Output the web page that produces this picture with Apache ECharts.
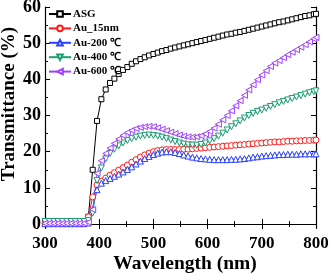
<!DOCTYPE html>
<html><head><meta charset="utf-8">
<script src="https://cdn.jsdelivr.net/npm/echarts@6/dist/echarts.min.js"></script>
<style>html,body{margin:0;padding:0;background:#fff}#c{width:331px;height:275px}</style>
</head><body><div id="c"></div>
<script>
const wavelengths = [300,308,316,324,332,340,348,356,364,372,380,
 388,396,404,412,420,428,436,444,452,460,468,476,484,492,500,
 508,516,524,532,540,548,556,564,572,580,588,596,604,
 612,620,628,636,644,652,660,668,676,684,692,700,
 708,716,724,732,740,748,756,764,772,780,788,796,800];
const seriesNames = ['ASG','Au_15nm','Au-200 \u2103','Au-400 \u2103','Au-600 \u2103'];
const asg = [0.7,0.7,0.7,0.7,0.7,0.7,0.7,0.7,0.7,0.7,2.0,
 15,28.5,34.5,37.2,39.0,40.2,41.5,42.6,43.4,44.3,45.0,45.6,46.1,46.6,47.0,
 47.4,47.8,48.1,48.5,48.8,49.1,49.4,49.7,50.0,50.3,50.6,50.9,51.2,
 51.5,51.8,52.1,52.4,52.6,52.9,53.1,53.4,53.7,54.0,54.3,54.6,
 54.9,55.2,55.5,55.8,56.0,56.3,56.6,56.9,57.2,57.5,57.7,58.0,58.1];
const au15 = [0.3,0.3,0.3,0.3,0.3,0.3,0.3,0.3,0.3,0.3,2.0,
 7.5,10.8,11.8,12.7,13.5,14.2,14.9,15.6,16.3,17.1,17.8,18.5,19.1,19.6,20.0,
 20.3,20.5,20.6,20.6,20.6,20.6,20.7,20.7,20.8,20.9,21.0,21.1,21.2,
 21.3,21.4,21.5,21.6,21.7,21.8,21.9,22.0,22.1,22.2,22.3,22.4,
 22.5,22.6,22.7,22.7,22.8,22.9,22.9,23.0,23.0,23.1,23.1,23.2,23.2];
const au200 = [0.1,0.1,0.1,0.1,0.1,0.1,0.1,0.1,0.1,0.1,0.3,
 4.0,9.5,11.3,12.0,12.6,13.2,13.8,14.4,15.1,15.8,16.6,17.4,18.1,18.7,19.2,
 19.6,19.9,20.0,20.0,19.8,19.5,19.1,18.8,18.5,18.3,18.1,18.0,17.9,
 17.8,17.8,17.8,17.8,17.9,17.9,18.0,18.1,18.3,18.5,18.6,18.8,
 18.9,19.0,19.1,19.2,19.2,19.3,19.3,19.3,19.4,19.4,19.4,19.4,19.4];
const au400 = [0.7,0.7,0.7,0.7,0.7,0.7,0.7,0.7,0.7,0.7,1.0,
 3.0,12.0,15.5,18.0,19.5,20.7,21.6,22.4,23.1,23.6,24.0,24.3,24.5,24.6,24.5,
 24.3,24.0,23.6,23.2,22.8,22.4,22.1,21.9,21.8,21.8,22.0,22.4,23.0,
 23.6,24.3,25.1,26.0,26.9,27.7,28.5,29.3,30.0,30.6,31.1,31.5,
 32.0,32.5,33.0,33.5,33.9,34.3,34.7,35.1,35.5,35.9,36.3,36.6,36.8];
const au600 = [0.2,0.2,0.2,0.2,0.2,0.2,0.2,0.2,0.2,0.2,0.5,
 4.0,14.0,17.5,19.5,21.0,22.3,23.5,24.5,25.3,25.9,26.4,26.7,26.9,27.0,26.9,
 26.6,26.2,25.8,25.4,25.0,24.6,24.3,24.1,24.0,24.1,24.4,24.9,25.6,
 26.5,27.6,28.8,30.0,31.3,32.7,34.1,35.6,37.1,38.5,39.9,41.2,
 42.4,43.6,44.5,45.2,46.0,46.8,47.5,48.2,48.9,49.6,50.4,51.2,51.6];
const xTicks = [300,400,500,600,700,800];
const yTicks = [0,10,20,30,40,50,60];
const yMinorTicks = [5,15,25,35,45,55];
const xTitle = 'Wavelength (nm)';
const yTitle = 'Transmittance (%)';

const values = [asg, au15, au200, au400, au600];
const colors = ['#000000','#ff1a1a','#2a40ff','#1a9e72','#a040ff'];
const symbols = ['rect','circle','triangle','triangle','triangle'];
const rotations = [0,0,0,180,90];
const sizes = [5,6,6,6,6];

const FONT = 'Liberation Serif';
const chart = echarts.init(document.getElementById('c'), null, {renderer:'canvas'});
const yBase = {type:'value', min:-1.1, max:60, splitLine:{show:false}, axisLine:{show:false}};
const option = {
  animation:false,
  backgroundColor:'#fff',
  grid:{left:45, right:15, top:7, bottom:47, containLabel:false, outerBoundsMode:'none'},
  legend:{
    data: seriesNames, orient:'vertical', left:48, top:7.3, itemGap:1, padding:0,
    itemWidth:22, itemHeight:7,
    textStyle:{fontFamily:FONT, fontWeight:'bold', fontSize:11, lineHeight:13.4, color:'#000', padding:[0,0,0,-3]}
  },
  graphic:[
    {type:'text', x:185, y:264, style:{text:xTitle, font:'bold 19.5px "Liberation Serif"', fill:'#000', align:'center', verticalAlign:'middle'}},
    {type:'text', x:9, y:104, rotation:Math.PI/2, style:{text:yTitle, font:'bold 19px "Liberation Serif"', fill:'#000', align:'center', verticalAlign:'middle'}}
  ],
  xAxis:[
    {type:'value', min:300, max:800, interval:100, position:'bottom',
     axisLine:{lineStyle:{color:'#000', width:1.2}},
     axisTick:{inside:true, length:5, lineStyle:{color:'#000'}},
     minorTick:{show:true, splitNumber:2, length:3, lineStyle:{color:'#000'}},
     axisLabel:{fontFamily:FONT, fontWeight:'bold', fontSize:17, color:'#000', margin:7},
     splitLine:{show:false}},
    {type:'value', min:300, max:800, interval:100, position:'top',
     axisLine:{lineStyle:{color:'#000', width:1.2}},
     axisTick:{inside:true, length:5, lineStyle:{color:'#000'}},
     minorTick:{show:true, splitNumber:2, length:3, lineStyle:{color:'#000'}},
     axisLabel:{show:false}, splitLine:{show:false}}
  ],
  yAxis:[
    Object.assign({}, yBase, {position:'left',
     axisLine:{show:true, lineStyle:{color:'#000', width:1.2}},
     axisTick:{inside:true, length:5, customValues:yTicks, lineStyle:{color:'#000'}},
     axisLabel:{customValues:yTicks, fontFamily:FONT, fontWeight:'bold', fontSize:18, color:'#000', margin:4}}),
    Object.assign({}, yBase, {position:'right',
     axisLine:{show:true, lineStyle:{color:'#000', width:1.2}},
     axisTick:{inside:true, length:5, customValues:yTicks, lineStyle:{color:'#000'}},
     axisLabel:{show:false}}),
    Object.assign({}, yBase, {position:'left',
     axisTick:{inside:true, length:3, customValues:yMinorTicks, lineStyle:{color:'#000'}},
     axisLabel:{show:false}}),
    Object.assign({}, yBase, {position:'right',
     axisTick:{inside:true, length:3, customValues:yMinorTicks, lineStyle:{color:'#000'}},
     axisLabel:{show:false}})
  ],
  series: seriesNames.map((name, i) => ({
    name, type:'line', xAxisIndex:0, yAxisIndex:0,
    data: wavelengths.map((w, k) => [w, values[i][k]]),
    symbol: symbols[i], symbolRotate: rotations[i], symbolSize: sizes[i],
    showAllSymbol:true, clip:false,
    lineStyle:{color:colors[i], width:1},
    itemStyle:{color:'#fff', borderColor:colors[i], borderWidth:1},
    emphasis:{disabled:true}
  }))
};
chart.setOption(option);
</script></body></html>
